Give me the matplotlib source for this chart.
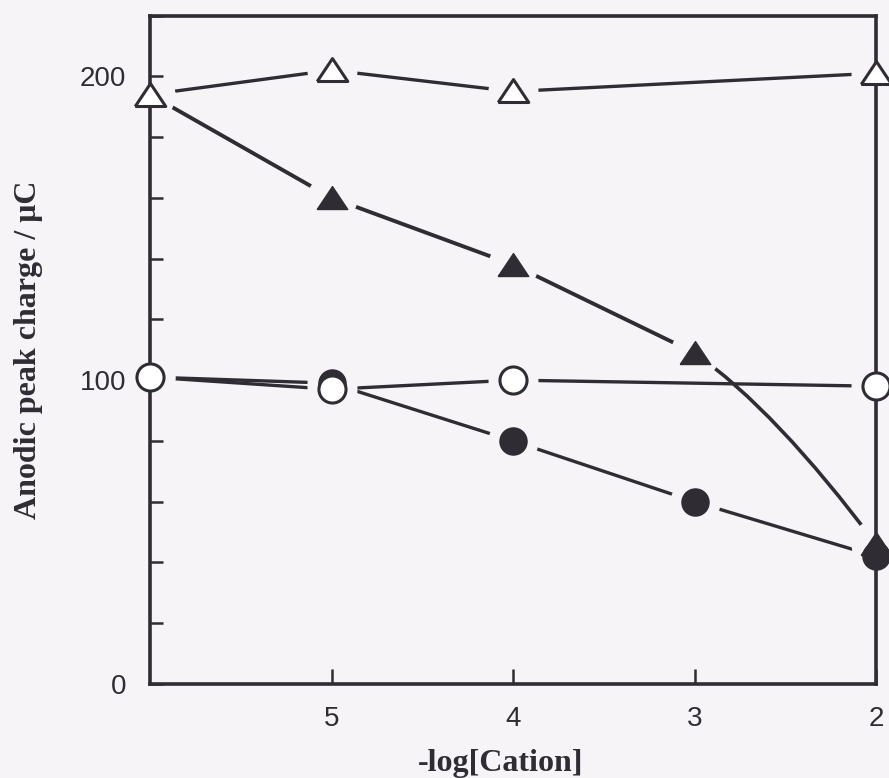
import matplotlib
matplotlib.use("Agg")
import matplotlib.pyplot as plt
from matplotlib.path import Path
from matplotlib.patches import PathPatch
from matplotlib.ticker import MultipleLocator, FixedLocator

# ---- data ----
x_open_tri = [6, 5, 4, 2]
y_open_tri = [194, 202, 195, 201]

x_fill_tri = [6, 5, 4, 3, 2]
y_fill_tri = [194, 160, 138, 109, 46]

x_open_circ = [6, 5, 4, 2]
y_open_circ = [101, 97, 100, 98]

x_fill_circ = [6, 5, 4, 3, 2]
y_fill_circ = [101, 99, 80, 60, 42]

xticks = [5, 4, 3, 2]
xtick_labels = ["5", "4", "3", "2"]
yticks_major = [0, 100, 200]
ytick_labels = ["0", "100", "200"]

xlabel = "-log[Cation]"
ylabel = "Anodic peak charge / μC"

# ---- style ----
BG = "#f6f4f7"
INK = "#2f2c34"
LW = 2.4

fig = plt.figure(figsize=(8.89, 7.78), dpi=100, facecolor=BG)
ax = fig.add_axes([150 / 889, 1 - 684 / 778, 726 / 889, 668.5 / 778])
ax.set_facecolor(BG)

ax.set_xlim(6, 2)
ax.set_ylim(0, 220)

tri_verts = [(-1.0, -0.72), (1.0, -0.72), (0.0, 0.78), (-1.0, -0.72)]
TRI_MS = 22
CIRC_MS = 19.5
GAP_MS = 36

# lines
ax.plot(x_open_tri, y_open_tri, color=INK, lw=LW, zorder=2)
ax.plot(x_fill_tri[:-1], y_fill_tri[:-1], color=INK, lw=LW + 0.4, zorder=2)
# curved final segment of the filled-triangle series
p0 = (x_fill_tri[-2], y_fill_tri[-2])
p2 = (x_fill_tri[-1], y_fill_tri[-1])
ctrl = (p2[0] + 0.55, p2[1] + 44)
curve = PathPatch(Path([p0, ctrl, p2], [Path.MOVETO, Path.CURVE3, Path.CURVE3]),
                  fill=False, edgecolor=INK, lw=LW + 0.2, zorder=2)
ax.add_patch(curve)
ax.plot(x_open_circ, y_open_circ, color=INK, lw=LW, zorder=2)
ax.plot(x_fill_circ, y_fill_circ, color=INK, lw=LW, zorder=2)

# gaps around markers (background-coloured discs)
for xs, ys in [(x_open_tri, y_open_tri), (x_fill_tri, y_fill_tri),
               (x_open_circ, y_open_circ), (x_fill_circ, y_fill_circ)]:
    ax.plot(xs, ys, ls="none", marker="o", ms=GAP_MS, mfc=BG, mec="none",
            zorder=2.2, clip_on=False)

# markers
ax.plot(x_fill_tri, y_fill_tri, ls="none", marker=tri_verts, ms=TRI_MS,
        mfc=INK, mec=INK, markevery=[1, 2, 3, 4], zorder=3, clip_on=False)
ax.plot(x_fill_circ, y_fill_circ, ls="none", marker="o", ms=CIRC_MS,
        mfc=INK, mec=INK, markevery=[1, 2, 3, 4], zorder=3, clip_on=False)
ax.plot(x_open_circ, y_open_circ, ls="none", marker="o", ms=CIRC_MS,
        mfc="white", mec=INK, mew=2.2, zorder=3.2, clip_on=False)
ax.plot(x_open_tri, y_open_tri, ls="none", marker=tri_verts, ms=TRI_MS,
        mfc="white", mec=INK, mew=2.2, zorder=3.2, clip_on=False)

# spines & ticks
for s in ax.spines.values():
    s.set_linewidth(2.6)
    s.set_color(INK)
    s.set_zorder(2.5)
ax.xaxis.set_zorder(2.5)
ax.yaxis.set_zorder(2.5)

ax.xaxis.set_major_locator(FixedLocator(xticks))
ax.set_xticklabels(xtick_labels)
ax.yaxis.set_major_locator(FixedLocator(yticks_major))
ax.set_yticklabels(ytick_labels)
ax.yaxis.set_minor_locator(MultipleLocator(20))

ax.tick_params(axis="x", which="major", direction="in", length=11, width=1.8,
               color=INK, labelsize=20, pad=16, top=False, labelcolor=INK)
ax.tick_params(axis="y", which="both", direction="in", length=9.5, width=1.8,
               color=INK, labelsize=20, pad=17, right=False, labelcolor=INK)
for lab in ax.get_xticklabels() + ax.get_yticklabels():
    lab.set_fontfamily("Liberation Sans")

ax.set_xlabel(xlabel, fontfamily="Liberation Serif", fontweight="bold",
              fontsize=23, color=INK)
ax.xaxis.set_label_coords(0.483, -0.097)
ax.xaxis.label.set_va("top")
ax.set_ylabel(ylabel, fontfamily="Liberation Serif", fontweight="bold",
              fontsize=23, color=INK)
ax.yaxis.set_label_coords(-0.147, 0.5)

fig.savefig("out.png", dpi=100, facecolor=BG)
